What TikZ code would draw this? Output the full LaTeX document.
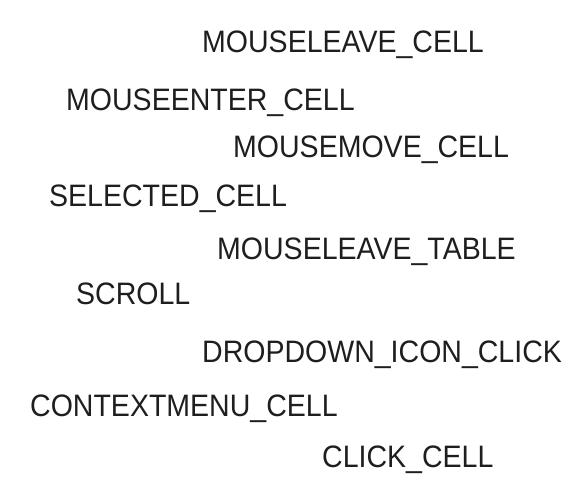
\documentclass[tikz,border=0pt]{standalone}
\usepackage{fontspec}
\setmainfont[FakeStretch=0.92]{Liberation Sans}
\usepackage{tikz}
\usetikzlibrary{%
  calc%
}
\definecolor{ink}{HTML}{1E1E1E}
\tikzset{evt/.style={anchor=base west,inner sep=0pt,text=ink,font=\fontsize{31}{33}\selectfont}}

\begin{document}
\begin{tikzpicture}[x=1pt,y=-1pt]
\useasboundingbox (0,0) rectangle (582,494);
\node[evt] (leavecell) at (202,53) {MOUSELEAVE\_CELL};
\node[evt] (entercell) at (66,111) {MOUSEENTER\_CELL};
\node[evt] (movecell) at (233,158) {MOUSEMOVE\_CELL};
\node[evt] (selcell) at (49,207) {SELECTED\_CELL};
\node[evt] (leavetable) at (217,260) {MOUSELEAVE\_TABLE};
\node[evt] (scroll) at (76,305) {SCROLL};
\node[evt] (ddclick) at (202,363) {DROPDOWN\_ICON\_CLICK};
\node[evt] (ctxcell) at (30,417) {CONTEXTMENU\_CELL};
\node[evt] (clickcell) at (322,468) {CLICK\_CELL};
\end{tikzpicture}
\end{document}
